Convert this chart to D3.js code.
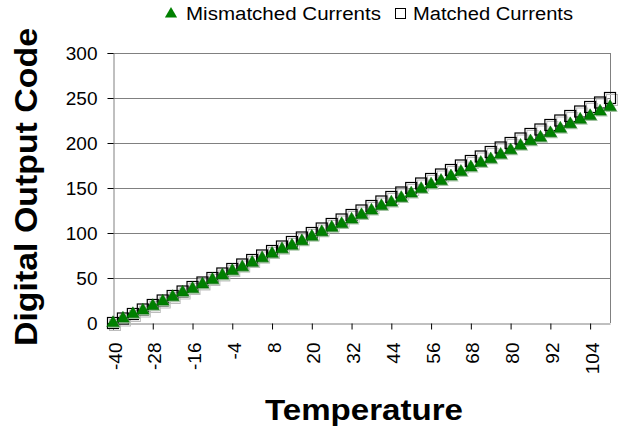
<!DOCTYPE html>
<html>
<head>
<meta charset="utf-8">
<script src="https://cdn.jsdelivr.net/npm/d3@7"></script>
<style>
  html, body { margin: 0; padding: 0; background: #fff; }
  svg { display: block; font-family: Arial, "Liberation Sans", sans-serif; }
</style>
</head>
<body>
<svg id="chart" width="639" height="435"></svg>
<script>
// ---- data ----
const temperatures = [-40,-37,-34,-31,-28,-25,-22,-19,-16,-13,-10,-7,-4,-1,2,5,8,11,14,17,20,23,26,29,32,35,38,41,44,47,50,53,56,59,62,65,68,71,74,77,80,83,86,89,92,95,98,101,104,107,110];
const mismatched = [0,5,10,14,19,24,29,34,38,43,48,53,58,62,67,72,77,82,86,91,96,101,106,110,115,120,125,130,134,139,144,149,154,158,163,168,173,178,182,187,192,197,202,206,211,216,221,226,230,235,240];
const matched = [0,5,10,15,20,25,30,35,40,45,50,55,60,65,70,75,80,85,90,95,100,105,110,115,120,125,130,135,140,145,150,155,160,165,170,175,180,185,190,195,200,205,210,215,220,225,230,235,240,245,250];
const yTicks = [0,50,100,150,200,250,300];
const xTickLabels = [-40,-28,-16,-4,8,20,32,44,56,68,80,92,104];
const seriesNames = ["Mismatched Currents", "Matched Currents"];

// ---- layout ----
const svg = d3.select("#chart");
const L = 113, R = 610, T = 53, B = 323;
const x = d3.scalePoint().domain(temperatures).range([L, R]);
const y = d3.scaleLinear().domain([0, 300]).range([B, T]);
const gray = "#808080";
const green = "#008000";
const FONT = "Arial, 'Liberation Sans', sans-serif";

// gridlines
svg.append("g").selectAll("line").data(yTicks.filter(d => d > 0)).join("line")
  .attr("x1", L).attr("x2", R)
  .attr("y1", d => Math.round(y(d)) + 0.5).attr("y2", d => Math.round(y(d)) + 0.5)
  .attr("stroke", gray).attr("stroke-width", 1);
// right border
svg.append("line").attr("x1", R + 0.5).attr("x2", R + 0.5).attr("y1", T).attr("y2", B)
  .attr("stroke", gray);

// y axis
const yAxis = d3.axisLeft(y).tickValues(yTicks).tickSize(6).tickPadding(10);
const gy = svg.append("g").attr("transform", `translate(${L + 0.5},0)`).call(yAxis);
gy.select(".domain").attr("stroke", gray);
gy.selectAll(".tick line").attr("stroke", "#000");
gy.selectAll(".tick text").attr("font-size", 19).attr("fill", "#000")
  .attr("font-family", FONT);

// x axis
const xAxis = d3.axisBottom(x).tickValues(xTickLabels).tickSize(6).tickSizeOuter(0);
const gx = svg.append("g").attr("transform", `translate(0,${B + 0.5})`).call(xAxis);
gx.select(".domain").attr("stroke", gray);
gx.selectAll(".tick line").attr("stroke", "#000");
gx.selectAll(".tick text")
  .attr("font-size", 19).attr("fill", "#000")
  .attr("font-family", FONT)
  .attr("text-anchor", "end")
  .attr("dy", null)
  .attr("transform", "translate(8,19) rotate(-90)")
  .attr("x", 0).attr("y", 0);

// marker shapes
const tri = d3.symbol().type(d3.symbolTriangle).size(68);
const sq = 11;

// matched (squares) shadow + marks
const gm = svg.append("g");
gm.selectAll("rect.sh").data(matched).join("rect").attr("class", "sh")
  .attr("x", (d, i) => x(temperatures[i]) - sq / 2 + 2)
  .attr("y", d => y(d) - sq / 2 + 2)
  .attr("width", sq).attr("height", sq)
  .attr("fill", "none").attr("stroke", "#bdbdbd").attr("stroke-width", 1);
gm.selectAll("rect.mk").data(matched).join("rect").attr("class", "mk")
  .attr("x", (d, i) => x(temperatures[i]) - sq / 2)
  .attr("y", d => y(d) - sq / 2)
  .attr("width", sq).attr("height", sq)
  .attr("fill", "none").attr("stroke", "#000").attr("stroke-width", 1.2);

// mismatched (triangles) shadow + marks
const gt = svg.append("g");
gt.selectAll("path.sh").data(mismatched).join("path").attr("class", "sh")
  .attr("d", tri)
  .attr("transform", (d, i) => `translate(${x(temperatures[i]) + 1.5},${y(d) + 1.5})`)
  .attr("fill", "#a8c8a8");
gt.selectAll("path.mk").data(mismatched).join("path").attr("class", "mk")
  .attr("d", tri)
  .attr("transform", (d, i) => `translate(${x(temperatures[i])},${y(d)})`)
  .attr("fill", green).attr("stroke", "#006400").attr("stroke-width", 0.5);

// axis titles
svg.append("text")
  .attr("transform", "translate(37,187) rotate(-90)")
  .attr("text-anchor", "middle")
  .attr("font-size", 31).attr("font-weight", "bold").attr("fill", "#000")
  .attr("textLength", 318).attr("lengthAdjust", "spacingAndGlyphs")
  .text("Digital Output Code");

svg.append("text")
  .attr("x", 364).attr("y", 420)
  .attr("text-anchor", "middle")
  .attr("font-size", 29).attr("font-weight", "bold").attr("fill", "#000")
  .attr("textLength", 198).attr("lengthAdjust", "spacingAndGlyphs")
  .text("Temperature");

// legend
const lg = svg.append("g");
lg.append("path").attr("d", d3.symbol().type(d3.symbolTriangle).size(64))
  .attr("transform", "translate(171,14)").attr("fill", green);
lg.append("text").attr("x", 186).attr("y", 20).attr("font-size", 18).attr("fill", "#000")
  .attr("textLength", 195).attr("lengthAdjust", "spacingAndGlyphs")
  .text(seriesNames[0]);
lg.append("rect").attr("x", 395.5).attr("y", 8.5).attr("width", 10).attr("height", 10)
  .attr("fill", "#fff").attr("stroke", "#000");
lg.append("text").attr("x", 413).attr("y", 20).attr("font-size", 18).attr("fill", "#000")
  .attr("textLength", 160).attr("lengthAdjust", "spacingAndGlyphs")
  .text(seriesNames[1]);
</script>
</body>
</html>
